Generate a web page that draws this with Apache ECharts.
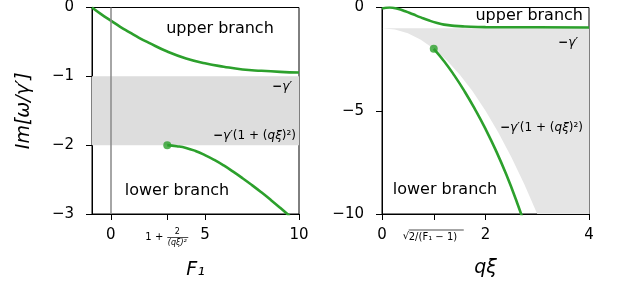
<!DOCTYPE html>
<html>
<head>
<meta charset="utf-8">
<script src="https://cdn.jsdelivr.net/npm/echarts@6/dist/echarts.min.js"></script>
<style>
  html, body { margin: 0; padding: 0; background: #fff; }
  #chart { width: 622px; height: 289px; }
</style>
</head>
<body>
<div id="chart"></div>
<script>
// ---- data ----
// left panel: Im[w/g'] against F1
var upperF1 = [-1, -0.5, 0, 0.5, 1, 1.5, 2, 3, 4, 5, 6, 7, 8, 9, 10];
var upperF1Val = [0, -0.1, -0.19, -0.28, -0.36, -0.44, -0.51, -0.64, -0.74, -0.81, -0.86, -0.9, -0.92, -0.935, -0.945];
var lowerF1 = [3, 3.5, 4, 4.5, 5, 5.5, 6, 6.5, 7, 7.5, 8, 8.5, 9, 9.5];
var lowerF1Val = [-2, -2.015, -2.04, -2.085, -2.145, -2.215, -2.295, -2.385, -2.48, -2.58, -2.685, -2.795, -2.91, -3.03];
var bandF1 = [-1, -2];          // -gamma' ... -gamma'(1+(q xi)^2)

// right panel: Im[w/g'] against q xi
var upperQ = [0, 0.15, 0.3, 0.45, 0.6, 0.75, 0.9, 1.05, 1.2, 1.4, 1.6, 2, 3, 4];
var upperQVal = [-0.05, 0, -0.06, -0.18, -0.33, -0.48, -0.62, -0.74, -0.83, -0.89, -0.92, -0.95, -0.96, -0.97];
var lowerQ = [1, 1.2, 1.4, 1.6, 1.8, 2.0, 2.2, 2.4, 2.6, 2.8];
var lowerQVal = [-2, -2.6, -3.3, -4.08, -4.94, -5.88, -6.92, -8.08, -9.38, -10.82];
var bandQ = [0, 0.25, 0.5, 0.75, 1, 1.25, 1.5, 1.75, 2, 2.25, 2.5, 2.75, 3, 3.25, 3.5, 4];
var bandQTop = [-1, -1, -1, -1, -1, -1, -1, -1, -1, -1, -1, -1, -1, -1, -1, -1];
var bandQBottom = [-1, -1.06, -1.25, -1.56, -2, -2.56, -3.25, -4.06, -5, -6.06, -7.25, -8.56, -10, -11.56, -13.25, -17];

var ticksF1 = [0, 3, 5, 10];
var ticksQ = [0, 1, 2, 4];

var green = '#2ca02c';
var font = 'DejaVu Sans';

function pairs(xs, ys) {
    return xs.map(function (x, i) { return [x, ys[i]]; });
}
function minus(v) {
    return String(v).replace('-', '\u2212');
}

var axisCommon = {
    axisLine: { show: true, onZero: false, lineStyle: { color: '#000', width: 1 } },
    splitLine: { show: false },
    nameTextStyle: { fontFamily: font, fontSize: 19, fontStyle: 'italic', color: '#000' }
};
function labelStyle(extra) {
    var s = { fontFamily: font, fontSize: 15, color: '#000', showMinLabel: true, showMaxLabel: true, formatter: minus };
    for (var k in extra) s[k] = extra[k];
    return s;
}
function tickStyle(extra) {
    var s = { show: true, length: 6, lineStyle: { color: '#000' } };
    for (var k in extra) s[k] = extra[k];
    return s;
}

var chart = echarts.init(document.getElementById('chart'));

var option = {
    animation: false,
    grid: [
        { left: 92, right: 323, top: 7, bottom: 75, show: true, borderColor: '#000', borderWidth: 1 },
        { left: 382, right: 33, top: 7, bottom: 75, show: true, borderColor: '#000', borderWidth: 1 }
    ],
    xAxis: [
        Object.assign({}, axisCommon, {
            gridIndex: 0, type: 'value', min: -1, max: 10,
            name: 'F\u2081', nameLocation: 'middle', nameGap: 47,
            axisTick: tickStyle({ customValues: ticksF1 }),
            axisLabel: labelStyle({ margin: 14, customValues: ticksF1, formatter: function (v) { return v === 3 ? '' : minus(v); } })
        }),
        Object.assign({}, axisCommon, {
            gridIndex: 1, type: 'value', min: 0, max: 4,
            name: 'q\u03be', nameLocation: 'middle', nameGap: 45,
            axisTick: tickStyle({ customValues: ticksQ }),
            axisLabel: labelStyle({ margin: 14, customValues: ticksQ, formatter: function (v) { return v === 1 ? '' : minus(v); } })
        })
    ],
    yAxis: [
        Object.assign({}, axisCommon, {
            gridIndex: 0, type: 'value', min: -3, max: 0, interval: 1,
            name: 'Im[\u03c9/\u03b3\u2032]', nameLocation: 'middle', nameGap: 58, nameRotate: 90,
            axisTick: tickStyle({}),
            axisLabel: labelStyle({ margin: 18 })
        }),
        Object.assign({}, axisCommon, {
            gridIndex: 1, type: 'value', min: -10, max: 0, interval: 5,
            axisTick: tickStyle({}),
            axisLabel: labelStyle({ margin: 18 })
        })
    ],
    series: [
        {
            type: 'line', xAxisIndex: 0, yAxisIndex: 0, z: 3,
            data: pairs(upperF1, upperF1Val), smooth: true, showSymbol: false,
            lineStyle: { color: green, width: 2.6 },
            markArea: {
                silent: true, z: 1,
                itemStyle: { color: '#dddddd' },
                data: [[{ yAxis: bandF1[0] }, { yAxis: bandF1[1] }]]
            },
            markLine: {
                silent: true, symbol: 'none', label: { show: false },
                lineStyle: { color: '#888', width: 1.5, type: 'solid' },
                data: [{ xAxis: 0 }]
            }
        },
        {
            type: 'line', xAxisIndex: 0, yAxisIndex: 0, z: 3,
            data: pairs(lowerF1, lowerF1Val), smooth: true, showSymbol: false,
            lineStyle: { color: green, width: 2.6 }
        },
        {
            type: 'scatter', xAxisIndex: 0, yAxisIndex: 0, z: 4,
            data: [[lowerF1[0], lowerF1Val[0]]], symbolSize: 8, itemStyle: { color: green }
        },
        {
            // shaded region between -gamma' and -gamma'(1+(q xi)^2)
            type: 'custom', xAxisIndex: 1, yAxisIndex: 1, z: 1, clip: true, silent: true,
            data: bandQ.map(function (x, i) { return [x, bandQTop[i], bandQBottom[i]]; }),
            encode: { x: 0, y: [1, 2] },
            renderItem: function (params, api) {
                if (params.dataIndex !== 0) return null;
                var pts = [];
                for (var i = 0; i < bandQ.length; i++) pts.push(api.coord([bandQ[i], bandQTop[i]]));
                for (var j = bandQ.length - 1; j >= 0; j--) pts.push(api.coord([bandQ[j], bandQBottom[j]]));
                return { type: 'polygon', shape: { points: pts }, style: { fill: '#e5e5e5' } };
            }
        },
        {
            type: 'line', xAxisIndex: 1, yAxisIndex: 1, z: 3,
            data: pairs(upperQ, upperQVal), smooth: true, showSymbol: false,
            lineStyle: { color: green, width: 2.6 }
        },
        {
            type: 'line', xAxisIndex: 1, yAxisIndex: 1, z: 3,
            data: pairs(lowerQ, lowerQVal), smooth: true, showSymbol: false,
            lineStyle: { color: green, width: 2.6 }
        },
        {
            type: 'scatter', xAxisIndex: 1, yAxisIndex: 1, z: 4,
            data: [[lowerQ[0], lowerQVal[0]]], symbolSize: 8, itemStyle: { color: green }
        }
    ]
};
chart.setOption(option);

// annotations and the two formula tick labels
function txt(x, y, s, size, align, style) {
    return {
        type: 'text', z: 10, silent: true,
        style: { x: x, y: y, text: s, fontFamily: font, fontSize: size, fontStyle: style || 'normal',
                 fill: '#000', align: align, verticalAlign: 'middle' }
    };
}
var gammaRich = {
    m: { fontFamily: font, fontSize: 12, fontWeight: 'bold' },
    g: { fontFamily: font, fontSize: 12, fontStyle: 'italic' },
    q: { fontFamily: font, fontSize: 12, fontStyle: 'italic' },
    n: { fontFamily: font, fontSize: 12 }
};
function gammaTxt(x, y, s) {
    return {
        type: 'text', z: 10, silent: true,
        style: { x: x, y: y, text: s, rich: gammaRich, fill: '#000', align: 'right', verticalAlign: 'middle' }
    };
}
var gShort = '{m|\u2212}{g|\u03b3\u2032}';
var gLong = '{m|\u2212}{g|\u03b3\u2032}{n|(1 + (}{q|q\u03be}{n|)\u00b2)}';

var px3 = chart.convertToPixel({ xAxisIndex: 0 }, 3);
var px1 = chart.convertToPixel({ xAxisIndex: 1 }, 1);
var ly = 237;

chart.setOption({
    graphic: [
        txt(220, 29, 'upper branch', 16, 'center'),
        txt(177, 191, 'lower branch', 16, 'center'),
        gammaTxt(292, 87, gShort),
        gammaTxt(296, 136, gLong),
        txt(583, 16, 'upper branch', 16, 'right'),
        txt(445, 190, 'lower branch', 16, 'center'),
        gammaTxt(578, 43, gShort),
        gammaTxt(583, 128, gLong),
        // 1 + 2/(q xi)^2
        txt(px3 - 4, ly, '1 +', 10, 'right'),
        txt(px3 + 10, ly - 5, '2', 8, 'center'),
        { type: 'line', silent: true, z: 10, shape: { x1: px3, y1: ly + 0.5, x2: px3 + 21, y2: ly + 0.5 }, style: { stroke: '#000', lineWidth: 0.7 } },
        txt(px3 + 10, ly + 6, '(q\u03be)\u00b2', 8, 'center', 'italic'),
        // sqrt(2/(F1 - 1))
        txt(px1 - 31, ly - 1, '\u221a', 10, 'left'),
        txt(px1 - 25, ly, '2/(F\u2081 \u2212 1)', 10, 'left'),
        { type: 'line', silent: true, z: 10, shape: { x1: px1 - 25, y1: ly - 7, x2: px1 + 30, y2: ly - 7 }, style: { stroke: '#000', lineWidth: 0.7 } }
    ]
});
</script>
</body>
</html>
